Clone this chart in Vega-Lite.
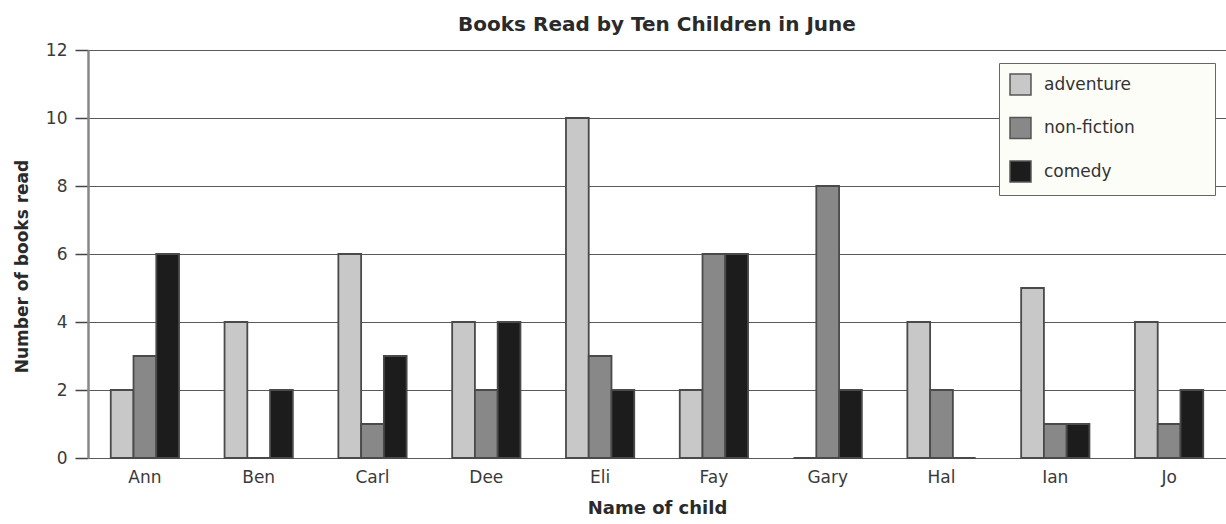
{
  "$schema": "https://vega.github.io/schema/vega-lite/v6.json",
  "autosize": "none",
  "padding": {"left": 88, "top": 50, "right": 0, "bottom": 66},
  "width": 1138,
  "height": 408,
  "background": "white",
  "title": {"text": "Books Read by Ten Children in June", "font": "DejaVu Sans", "fontSize": 20, "fontWeight": "bold", "color": "#2a2a2a", "anchor": "middle", "offset": 6},
  "config": {"view": {"stroke": null}, "font": "DejaVu Sans"},
  "data": {"values": [
    {"child": "Ann", "genre": "adventure", "books": 2},
    {"child": "Ann", "genre": "non-fiction", "books": 3},
    {"child": "Ann", "genre": "comedy", "books": 6},
    {"child": "Ben", "genre": "adventure", "books": 4},
    {"child": "Ben", "genre": "non-fiction", "books": 0},
    {"child": "Ben", "genre": "comedy", "books": 2},
    {"child": "Carl", "genre": "adventure", "books": 6},
    {"child": "Carl", "genre": "non-fiction", "books": 1},
    {"child": "Carl", "genre": "comedy", "books": 3},
    {"child": "Dee", "genre": "adventure", "books": 4},
    {"child": "Dee", "genre": "non-fiction", "books": 2},
    {"child": "Dee", "genre": "comedy", "books": 4},
    {"child": "Eli", "genre": "adventure", "books": 10},
    {"child": "Eli", "genre": "non-fiction", "books": 3},
    {"child": "Eli", "genre": "comedy", "books": 2},
    {"child": "Fay", "genre": "adventure", "books": 2},
    {"child": "Fay", "genre": "non-fiction", "books": 6},
    {"child": "Fay", "genre": "comedy", "books": 6},
    {"child": "Gary", "genre": "adventure", "books": 0},
    {"child": "Gary", "genre": "non-fiction", "books": 8},
    {"child": "Gary", "genre": "comedy", "books": 2},
    {"child": "Hal", "genre": "adventure", "books": 4},
    {"child": "Hal", "genre": "non-fiction", "books": 2},
    {"child": "Hal", "genre": "comedy", "books": 0},
    {"child": "Ian", "genre": "adventure", "books": 5},
    {"child": "Ian", "genre": "non-fiction", "books": 1},
    {"child": "Ian", "genre": "comedy", "books": 1},
    {"child": "Jo", "genre": "adventure", "books": 4},
    {"child": "Jo", "genre": "non-fiction", "books": 1},
    {"child": "Jo", "genre": "comedy", "books": 2}
  ]},
  "mark": {"type": "bar", "stroke": "#4a4a4a", "strokeWidth": 1.8},
  "encoding": {
    "x": {
      "field": "child", "type": "nominal", "sort": null,
      "scale": {"paddingInner": 0.4, "paddingOuter": 0.2},
      "axis": {"title": "Name of child", "titleFont": "DejaVu Sans", "titleFontSize": 18, "titleFontWeight": "bold", "titleColor": "#2a2a2a", "titlePadding": 14,
               "labelAngle": 0, "labelFontSize": 17, "labelColor": "#3a3a3a", "labelPadding": 11, "ticks": false, "domain": false}
    },
    "xOffset": {"field": "genre", "type": "nominal", "sort": ["adventure", "non-fiction", "comedy"], "scale": {"paddingInner": 0, "paddingOuter": 0}},
    "y": {
      "field": "books", "type": "quantitative",
      "scale": {"domain": [0, 12]},
      "axis": {"title": "Number of books read", "titleFont": "DejaVu Sans", "titleFontSize": 17, "titleFontWeight": "bold", "titleColor": "#2a2a2a", "titlePadding": 14, "titleY": 216,
               "values": [0, 2, 4, 6, 8, 10, 12], "labelFontSize": 17, "labelColor": "#3a3a3a", "labelPadding": 8,
               "tickSize": 13, "tickColor": "#444", "tickWidth": 1.5,
               "grid": true, "gridColor": "#5a5a5a", "gridWidth": 1.2,
               "domain": true, "domainColor": "#888", "domainWidth": 2.5}
    },
    "color": {
      "field": "genre", "type": "nominal",
      "scale": {"domain": ["adventure", "non-fiction", "comedy"], "range": ["#c8c8c8", "#888888", "#1c1c1c"]},
      "legend": {"title": null, "orient": "none", "legendX": 911, "legendY": 13,
                 "fillColor": "#fdfdf7", "strokeColor": "#666", "padding": 10,
                 "symbolType": "square", "symbolSize": 440, "symbolStrokeColor": "#555", "symbolStrokeWidth": 1.5,
                 "labelFontSize": 17, "labelColor": "#333", "labelOffset": 12, "rowPadding": 16.5, "labelLimit": 300,
                 "labelExpr": "datum.label + '\u00a0\u00a0\u00a0\u00a0\u00a0\u00a0\u00a0\u00a0\u00a0\u00a0\u00a0\u00a0\u00a0\u200b'"}
    }
  }
}
